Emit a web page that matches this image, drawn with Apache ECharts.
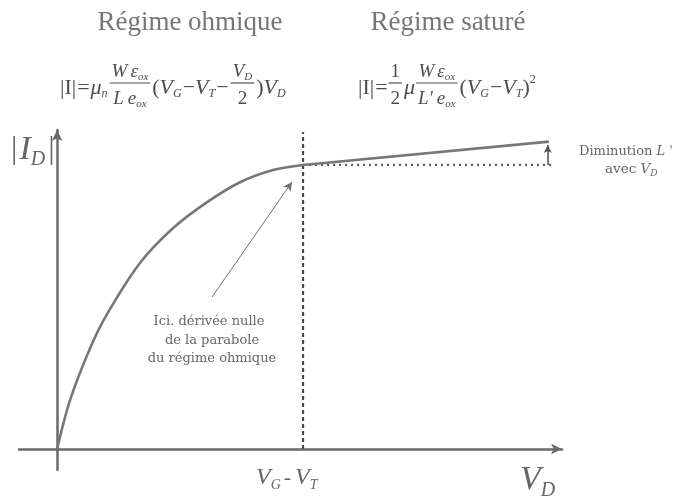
<!DOCTYPE html>
<html>
<head>
<meta charset="utf-8">
<script src="https://cdn.jsdelivr.net/npm/echarts@6/dist/echarts.min.js"></script>
<style>
  html, body { margin: 0; padding: 0; background: #fff; }
  #chart { width: 685px; height: 504px; }
</style>
</head>
<body>
<div id="chart"></div>
<script>
// MOSFET output characteristic |I_D| versus V_D (normalised: V_D = V_G - V_T at 1, I_D,sat at 1)
const ohmicVd = [0, 0.053, 0.134, 0.203, 0.337, 0.472, 0.61, 0.744, 0.878, 1];
const ohmicId = [0, 0.173, 0.355, 0.475, 0.655, 0.778, 0.869, 0.939, 0.982, 1];
const satVd = [1, 2.0];
const satId = [1, 1.082];
const pinchVd = 1;          // V_G - V_T
const guideTop = 1.116;     // top of the dashed pinch-off line
const flatEndVd = 2.02;     // end of the dotted constant-current reference
const arrowVd = 1.995;      // where the channel-length-modulation arrow sits

const zip = (a, b) => a.map((v, i) => [v, b[i]]);

const chart = echarts.init(document.getElementById('chart'), null, { renderer: 'canvas' });

// --- small text layout helper for the formulas ---
const measureCtx = document.createElement('canvas').getContext('2d');
const SERIF = '"Liberation Serif", "Times New Roman", serif';
const WIDE_SERIF = '"DejaVu Serif", serif';
function fontOf(size, italic, family) { return (italic ? 'italic ' : '') + size + 'px ' + (family || SERIF); }
function widthOf(text, size, italic, family) { measureCtx.font = fontOf(size, italic, family); return measureCtx.measureText(text).width; }
function textEl(text, x, y, size, italic, color, align, family) {
  return {
    type: 'text', silent: true, x: x, y: y,
    style: {
      text: text, font: fontOf(size, italic, family), fill: color,
      textAlign: align || 'left', textVerticalAlign: 'middle',
      align: align || 'left', verticalAlign: 'middle'
    }
  };
}
// tokens: [text, size, italic, dy, gapAfter]
function runWidth(tokens, family) {
  return tokens.reduce((s, t) => s + widthOf(t[0], t[1], t[2], family) + (t[4] || 0), 0);
}
function layoutRun(tokens, x, y, color, out, family) {
  tokens.forEach(t => {
    out.push(textEl(t[0], x, y + (t[3] || 0), t[1], t[2], color, 'left', family));
    x += widthOf(t[0], t[1], t[2], family) + (t[4] || 0);
  });
  return x;
}
// items: either a token list (inline) or {num, den}
function layoutFormula(items, x, y, color, out) {
  items.forEach(it => {
    if (Array.isArray(it)) {
      x = layoutRun(it, x, y, color, out);
    } else {
      const wn = runWidth(it.num), wd = runWidth(it.den);
      const w = Math.max(wn, wd) + 4;
      layoutRun(it.num, x + (w - wn) / 2, y - 16, color, out);
      layoutRun(it.den, x + (w - wd) / 2, y + 11, color, out);
      out.push({ type: 'line', silent: true,
        shape: { x1: x, y1: y - 5, x2: x + w, y2: y - 5 },
        style: { stroke: color, lineWidth: 1.2 } });
      x += w + 2;
    }
  });
  return x;
}

const TXT = '#666666';
const FORM = '#4d4d4d';
const graphics = [];

// headings
graphics.push(textEl('Régime ohmique', 190, 23, 27, false, '#767676', 'center'));
graphics.push(textEl('Régime saturé', 448, 23, 27, false, '#767676', 'center'));

// ohmic regime formula
layoutFormula([
  [['|I|', 22, false, 0, 1], ['=', 22, false, 0, 1], ['μ', 22, true, 0], ['n', 12, true, 6, 2]],
  { num: [['W', 19, true, 0, 3], ['ε', 19, true, 0], ['ox', 11, true, 5]],
    den: [['L', 19, true, 0, 4], ['e', 19, true, 0], ['ox', 11, true, 5]] },
  [['(', 22, false, 0], ['V', 22, true, 0], ['G', 12, true, 6, 1], ['−', 22, false, 0], ['V', 22, true, 0], ['T', 12, true, 6, 1], ['−', 22, false, 0, 2]],
  { num: [['V', 19, true, 0], ['D', 11, true, 5]], den: [['2', 19, false, 0]] },
  [[')', 22, false, 0], ['V', 22, true, 0], ['D', 12, true, 6]]
], 60, 88, FORM, graphics);

// saturation regime formula
layoutFormula([
  [['|I|', 22, false, 0, 1], ['=', 22, false, 0, 1]],
  { num: [['1', 19, false, 0]], den: [['2', 19, false, 0]] },
  [['μ', 22, true, 0, 1]],
  { num: [['W', 19, true, 0, 3], ['ε', 19, true, 0], ['ox', 11, true, 5]],
    den: [['L\'', 19, true, 0, 4], ['e', 19, true, 0], ['ox', 11, true, 5]] },
  [['(', 22, false, 0], ['V', 22, true, 0], ['G', 12, true, 6, 1], ['−', 22, false, 0], ['V', 22, true, 0], ['T', 12, true, 6], [')', 22, false, 0], ['2', 12, false, -8]]
], 358, 88, FORM, graphics);

// axis titles
layoutRun([['|', 32, false, 0, 2], ['I', 34, true, 0], ['D', 20, true, 10, 3], ['|', 32, false, 0]], 11, 150, TXT, graphics);
layoutRun([['V', 24, true, 0], ['G', 14, true, 7, 3], ['-', 22, false, 0, 4], ['V', 24, true, 0], ['T', 14, true, 7]], 256, 478, TXT, graphics);
layoutRun([['V', 34, true, 0], ['D', 20, true, 11]], 520, 480, TXT, graphics);

// annotation of the pinch-off point
graphics.push(textEl('Ici. dérivée nulle', 209, 322, 13, false, TXT, 'center', WIDE_SERIF));
graphics.push(textEl('de la parabole', 212, 341, 13, false, TXT, 'center', WIDE_SERIF));
graphics.push(textEl('du régime ohmique', 212, 359, 13, false, TXT, 'center', WIDE_SERIF));

// channel-length modulation note
layoutRun([['Diminution ', 13, false, 0], ['L', 13, true, 0], [' \'', 13, false, 0]], 579, 152, TXT, graphics, WIDE_SERIF);
layoutRun([['avec ', 13.5, false, 0], ['V', 13.5, true, 0], ['D', 9, true, 5]], 605, 169, TXT, graphics, WIDE_SERIF);

const lineGray = '#777777';

chart.setOption({
  animation: false,
  backgroundColor: '#ffffff',
  grid: { left: 19, right: 123, top: 130, bottom: 34, containLabel: false },
  xAxis: {
    type: 'value', min: -0.155, max: 2.053,
    axisLine: { onZero: true, lineStyle: { color: '#6a6a6a', width: 2.5 }, symbol: ['none', 'arrow'], symbolSize: [8, 11] },
    axisTick: { show: false }, axisLabel: { show: false }, splitLine: { show: false }
  },
  yAxis: {
    type: 'value', min: -0.074, max: 1.123,
    axisLine: { onZero: true, lineStyle: { color: '#6a6a6a', width: 2.5 }, symbol: ['none', 'arrow'], symbolSize: [8, 11] },
    axisTick: { show: false }, axisLabel: { show: false }, splitLine: { show: false }
  },
  series: [
    {
      name: 'ohmique', type: 'line', data: zip(ohmicVd, ohmicId), smooth: 0.35,
      showSymbol: false, lineStyle: { color: lineGray, width: 2.6 }, z: 3,
      markLine: {
        silent: true, symbol: ['none', 'arrow'], symbolSize: [7, 9], label: { show: false },
        lineStyle: { color: '#707070', width: 1, type: 'solid' },
        data: [[{ coord: [0.63, 0.535] }, { coord: [0.955, 0.94] }]]
      }
    },
    {
      name: 'saturé', type: 'line', data: zip(satVd, satId),
      showSymbol: false, lineStyle: { color: lineGray, width: 2.6 }, z: 3
    },
    {
      name: 'pincement', type: 'line', data: [[pinchVd, 0], [pinchVd, guideTop]],
      showSymbol: false, lineStyle: { color: '#4a4a4a', width: 2.2, type: [4, 3] }, z: 2
    },
    {
      name: 'référence', type: 'line', data: [[pinchVd, satId[0]], [flatEndVd, satId[0]]],
      showSymbol: false, lineStyle: { color: '#5a5a5a', width: 2.2, type: [2, 4] }, z: 2,
      markLine: {
        silent: true, symbol: ['none', 'arrow'], symbolSize: [6, 8], label: { show: false },
        lineStyle: { color: '#555555', width: 1.6, type: 'solid' },
        data: [[{ coord: [arrowVd, 1.0] }, { coord: [arrowVd, 1.07] }]]
      }
    }
  ],
  graphic: graphics
});
</script>
</body>
</html>
